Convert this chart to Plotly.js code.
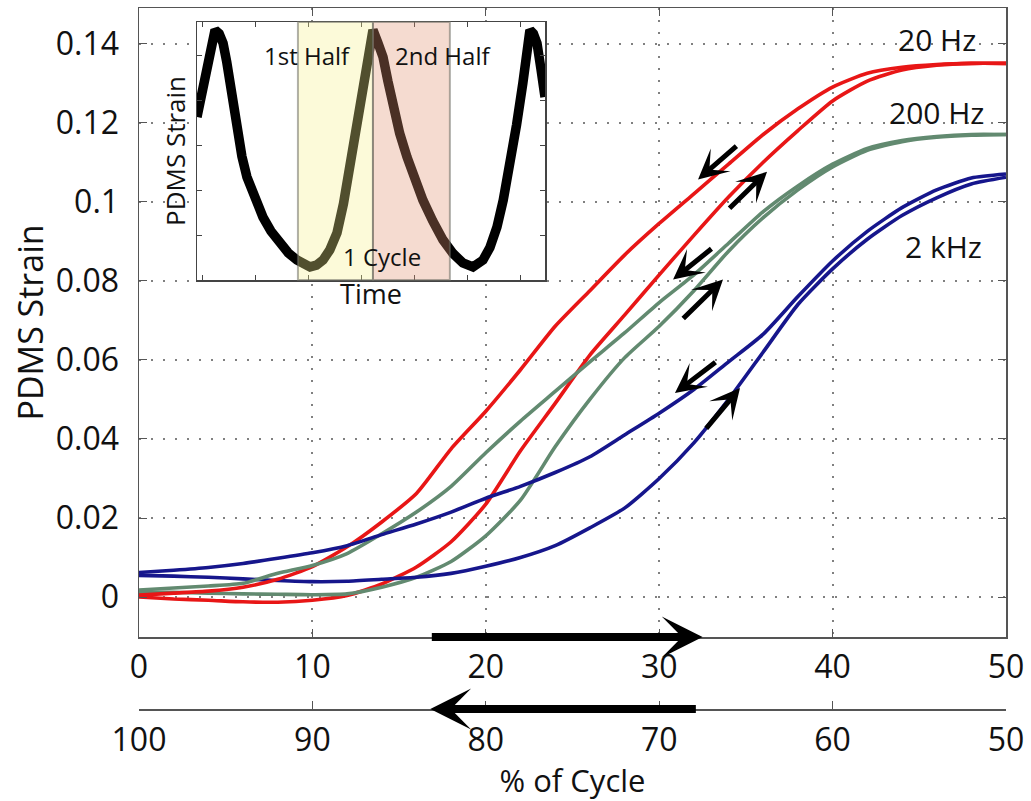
<!DOCTYPE html>
<html>
<head>
<meta charset="utf-8">
<script src="https://cdn.plot.ly/plotly-3.0.1.min.js"></script>
<style>
  html, body { margin: 0; padding: 0; background: #ffffff; }
  #chart { width: 1031px; height: 801px; }
</style>
</head>
<body>
<div id="chart"></div>
<script>
// ---- data ----
// 1st half of the cycle (loading), % of cycle 0 -> 50 (top scale)
const firstHalfPct = [0, 2, 4, 6, 8, 10, 12, 14, 16, 18, 20, 22, 24, 26, 28, 30, 32, 34, 36, 38, 40, 42, 44, 46, 48, 50];
// 2nd half of the cycle (unloading), % of cycle 100 -> 50 (bottom scale)
const secondHalfPct = [100, 98, 96, 94, 92, 90, 88, 86, 84, 82, 80, 78, 76, 74, 72, 70, 68, 66, 64, 62, 60, 58, 56, 54, 52, 50];

const strain20HzFirst  = [0.0000, -0.0005, -0.0008, -0.0012, -0.0013, -0.0008, 0.0004, 0.0033, 0.0076, 0.0140, 0.0235, 0.0370, 0.0490, 0.0612, 0.0713, 0.0815, 0.0915, 0.1012, 0.1100, 0.1180, 0.1255, 0.1305, 0.1333, 0.1345, 0.1350, 0.1350];
const strain20HzSecond = [0.0005, 0.0010, 0.0015, 0.0025, 0.0045, 0.0077, 0.0127, 0.0190, 0.0262, 0.0375, 0.0470, 0.0575, 0.0685, 0.0775, 0.0865, 0.0945, 0.1020, 0.1095, 0.1170, 0.1235, 0.1290, 0.1325, 0.1340, 0.1347, 0.1350, 0.1350];

const strain200HzFirst  = [0.0012, 0.0012, 0.0010, 0.0008, 0.0007, 0.0006, 0.0008, 0.0025, 0.0050, 0.0090, 0.0155, 0.0245, 0.0380, 0.0500, 0.0605, 0.0685, 0.0775, 0.0875, 0.0960, 0.1030, 0.1088, 0.1130, 0.1152, 0.1163, 0.1168, 0.1170];
const strain200HzSecond = [0.0018, 0.0023, 0.0028, 0.0035, 0.0060, 0.0080, 0.0110, 0.0160, 0.0215, 0.0280, 0.0365, 0.0445, 0.0520, 0.0595, 0.0668, 0.0745, 0.0815, 0.0895, 0.0975, 0.1040, 0.1095, 0.1135, 0.1155, 0.1165, 0.1170, 0.1170];

const strain2kHzFirst  = [0.0055, 0.0053, 0.0050, 0.0046, 0.0042, 0.0039, 0.0040, 0.0045, 0.0050, 0.0060, 0.0078, 0.0100, 0.0130, 0.0175, 0.0225, 0.0300, 0.0390, 0.0500, 0.0620, 0.0740, 0.0830, 0.0905, 0.0965, 0.1010, 0.1045, 0.1062];
const strain2kHzSecond = [0.0062, 0.0068, 0.0075, 0.0085, 0.0098, 0.0112, 0.0130, 0.0158, 0.0185, 0.0215, 0.0250, 0.0280, 0.0315, 0.0355, 0.0410, 0.0465, 0.0525, 0.0595, 0.0665, 0.0760, 0.0850, 0.0925, 0.0985, 0.1030, 0.1060, 0.1070];

// inset: strain vs time (cycles), normalised
const insetTime   = [-0.121, -0.085, -0.057, -0.030, -0.006, 0.020, 0.045, 0.068, 0.089, 0.112, 0.134, 0.165, 0.197, 0.245, 0.299, 0.350, 0.408, 0.460, 0.516, 0.560, 0.599, 0.640, 0.682, 0.725, 0.771, 0.812, 0.854, 0.896, 0.937, 0.970, 1.000, 1.030, 1.064, 1.095, 1.127, 1.170, 1.217, 1.265, 1.318, 1.380, 1.446, 1.510, 1.573, 1.637, 1.701, 1.745, 1.790, 1.830, 1.873, 1.915, 1.955, 1.980, 2.000, 2.022, 2.045, 2.070, 2.096];
const insetStrain = [0.642, 0.745, 0.848, 0.935, 1.000, 0.985, 0.946, 0.870, 0.782, 0.680, 0.576, 0.480, 0.395, 0.305, 0.230, 0.172, 0.123, 0.083, 0.053, 0.033, 0.025, 0.032, 0.053, 0.095, 0.165, 0.285, 0.436, 0.610, 0.782, 0.905, 1.000, 0.950, 0.889, 0.790, 0.683, 0.575, 0.477, 0.385, 0.300, 0.215, 0.136, 0.080, 0.041, 0.025, 0.053, 0.105, 0.189, 0.300, 0.436, 0.610, 0.782, 0.905, 1.000, 0.985, 0.946, 0.840, 0.724];

const seriesNames = ['20 Hz', '200 Hz', '2 kHz'];
const yTickVals = [0, 0.02, 0.04, 0.06, 0.08, 0.1, 0.12, 0.14];
const yTickText = ['0', '0.02', '0.04', '0.06', '0.08', '0.1', '0.12', '0.14'];
const topTickVals = [0, 10, 20, 30, 40, 50];
const bottomTickVals = [100, 90, 80, 70, 60, 50];
const insetLabels = ['1st Half', '2nd Half', '1 Cycle'];

// ---- styling ----
const FONT = 'Open Sans, Noto Sans, sans-serif';
const colors = ['rgb(232,22,22)', 'rgb(98,138,112)', 'rgb(22,22,140)'];
const frameColor = '#555555';

const firsts = [strain20HzFirst, strain200HzFirst, strain2kHzFirst];
const seconds = [strain20HzSecond, strain200HzSecond, strain2kHzSecond];

const traces = [];
for (let i = 0; i < 3; i++) {
  traces.push({
    x: firstHalfPct, y: firsts[i], xaxis: 'x', yaxis: 'y',
    type: 'scatter', mode: 'lines', name: seriesNames[i] + ' (1st half)',
    line: { color: colors[i], width: 3.6, shape: 'spline', smoothing: 0.6 }, hoverinfo: 'skip', showlegend: false
  });
  traces.push({
    x: secondHalfPct, y: seconds[i], xaxis: 'x3', yaxis: 'y',
    type: 'scatter', mode: 'lines', name: seriesNames[i] + ' (2nd half)',
    line: { color: colors[i], width: 3.6, shape: 'spline', smoothing: 0.6 }, hoverinfo: 'skip', showlegend: false
  });
}
traces.push({
  x: insetTime, y: insetStrain, xaxis: 'x2', yaxis: 'y2',
  type: 'scatter', mode: 'lines', name: 'PDMS strain vs time',
  line: { color: '#000000', width: 9.5 }, hoverinfo: 'skip', showlegend: false
});

const mainYDomain = [72 / 701, 1];

const annotations = [];
// series labels
const labelPos = [[46.0, 0.1410], [46.0, 0.1225], [46.4, 0.0886]];
for (let i = 0; i < 3; i++) {
  annotations.push({
    text: seriesNames[i], xref: 'x', yref: 'y', x: labelPos[i][0], y: labelPos[i][1],
    showarrow: false, font: { family: FONT, size: 30, color: '#111' }
  });
}
// direction arrows along the curves: [tipX, tipY, tailX, tailY]
const curveArrows = [
  [32.24, 0.1056, 34.54, 0.1144],
  [36.22, 0.1076, 33.97, 0.0980],
  [30.80, 0.0803, 33.10, 0.0884],
  [33.68, 0.0803, 31.30, 0.0701],
  [30.91, 0.0516, 33.33, 0.0597],
  [34.66, 0.0529, 32.64, 0.0423]
];
curveArrows.forEach(a => annotations.push({
  text: '', xref: 'x', yref: 'y', axref: 'x', ayref: 'y',
  x: a[0], y: a[1], ax: a[2], ay: a[3],
  showarrow: true, arrowhead: 3, arrowwidth: 5, arrowsize: 1.0, arrowcolor: '#000'
}));
// axis direction arrows
annotations.push({
  text: '', xref: 'x', yref: 'paper', axref: 'x', ayref: 'pixel',
  x: 32.5, y: mainYDomain[0], ax: 16.8, ay: 0,
  showarrow: true, arrowhead: 3, arrowwidth: 8, arrowsize: 0.85, arrowcolor: '#000'
});
annotations.push({
  text: '', xref: 'x3', yref: 'paper', axref: 'x3', ayref: 'pixel',
  x: 83.2, y: 0, ax: 67.8, ay: 0,
  showarrow: true, arrowhead: 3, arrowwidth: 8, arrowsize: 0.85, arrowcolor: '#000'
});
// inset labels
const insetLabelPos = [[0.586, 0.897], [1.446, 0.897], [1.057, 0.066]];
for (let i = 0; i < 3; i++) {
  annotations.push({
    text: insetLabels[i], xref: 'x2', yref: 'y2', x: insetLabelPos[i][0], y: insetLabelPos[i][1],
    showarrow: false, font: { family: FONT, size: 24, color: '#111' }
  });
}

const layout = {
  width: 1031, height: 801,
  margin: { l: 139, r: 25, t: 8, b: 92 },
  paper_bgcolor: '#ffffff',
  plot_bgcolor: 'white',
  showlegend: false,
  font: { family: FONT, color: '#111' },
  xaxis: {
    range: [0, 50], domain: [0, 1], anchor: 'y',
    tickvals: topTickVals, ticks: 'inside', ticklen: 8, tickcolor: frameColor, tickwidth: 1,
    showline: true, linecolor: frameColor, linewidth: 1.5, mirror: 'ticks',
    showgrid: true, gridcolor: '#808080', gridwidth: 2, griddash: '2px,10px',
    zeroline: false, tickfont: { family: FONT, size: 32, color: '#111' },
    ticklabelstandoff: 1, fixedrange: true
  },
  yaxis: {
    range: [-0.0101, 0.149], domain: mainYDomain, anchor: 'x',
    tickvals: yTickVals, ticktext: yTickText, ticks: 'inside', ticklen: 8, tickcolor: frameColor,
    showline: true, linecolor: frameColor, linewidth: 1.5, mirror: 'ticks',
    showgrid: true, gridcolor: '#808080', gridwidth: 2, griddash: '2px,10px',
    zeroline: false, tickfont: { family: FONT, size: 32, color: '#111' },
    ticklabelstandoff: 12,
    title: { text: 'PDMS Strain', font: { family: FONT, size: 34, color: '#111' }, standoff: 2 },
    fixedrange: true
  },
  xaxis3: {
    range: [100, 50], overlaying: 'x', anchor: 'free', position: 0, side: 'bottom',
    tickvals: bottomTickVals, ticks: 'inside', ticklen: 8, tickcolor: frameColor, tickwidth: 1,
    showline: true, linecolor: frameColor, linewidth: 1.5, showgrid: false, zeroline: false,
    tickfont: { family: FONT, size: 32, color: '#111' }, ticklabelstandoff: 2,
    title: { text: '% of Cycle', font: { family: FONT, size: 31, color: '#111' }, standoff: 4 },
    fixedrange: true
  },
  xaxis2: {
    range: [-0.121, 2.096], domain: [58 / 867, 406 / 867], anchor: 'y2',
    showline: true, linecolor: '#444', linewidth: 1.5, mirror: 'ticks',
    ticks: 'inside', ticklen: 5, tickcolor: '#444', tick0: -0.083, dtick: 0.3376,
    showticklabels: false, showgrid: false, zeroline: false,
    title: { text: 'Time', font: { family: FONT, size: 27, color: '#111' }, standoff: 4 },
    fixedrange: true
  },
  yaxis2: {
    range: [-0.029, 1.033], domain: [429 / 701, 687 / 701], anchor: 'x2',
    showline: true, linecolor: '#444', linewidth: 1.5, mirror: 'ticks',
    ticks: 'inside', ticklen: 5, tickcolor: '#444', tick0: -0.029, dtick: 0.185,
    showticklabels: false, showgrid: false, zeroline: false,
    title: { text: 'PDMS Strain', font: { family: FONT, size: 26, color: '#111' }, standoff: 2 },
    fixedrange: true
  },
  shapes: [
    { type: 'rect', layer: 'above', xref: 'x2', yref: 'y2 domain', x0: 0.522, x1: 1.0, y0: 0, y1: 1,
      fillcolor: 'rgba(246,241,141,0.33)', line: { color: 'rgba(110,110,100,0.55)', width: 2 } },
    { type: 'rect', layer: 'above', xref: 'x2', yref: 'y2 domain', x0: 1.0, x1: 1.49, y0: 0, y1: 1,
      fillcolor: 'rgba(226,146,112,0.33)', line: { color: 'rgba(110,110,100,0.55)', width: 2 } }
  ],
  annotations: annotations
};

Plotly.newPlot('chart', traces, layout, { staticPlot: true, displayModeBar: false });
</script>
</body>
</html>
